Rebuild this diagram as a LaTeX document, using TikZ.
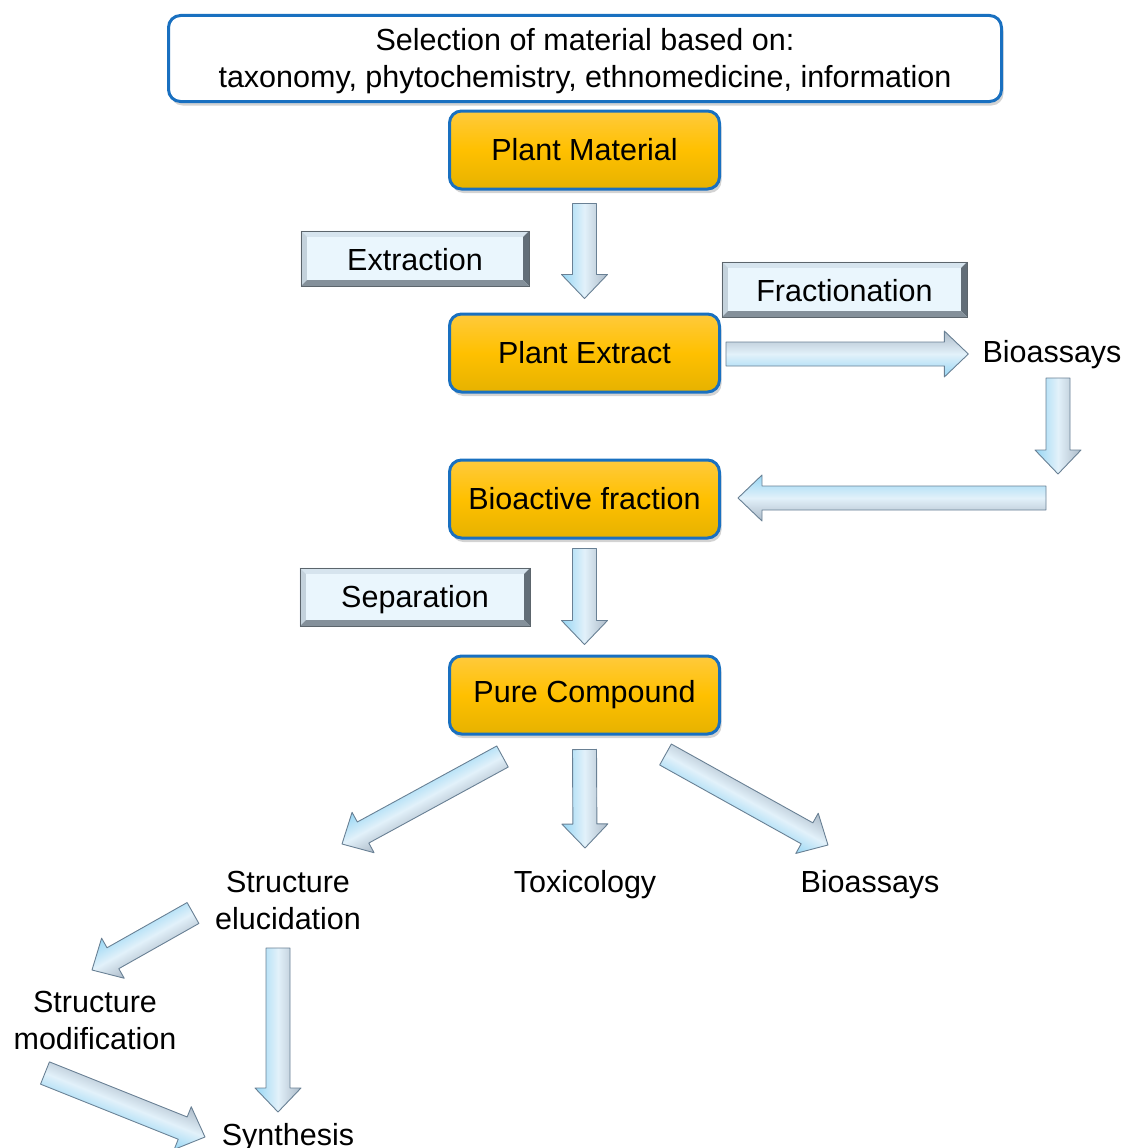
\documentclass[tikz,border=0pt]{standalone}
\usepackage{fontspec}
\setmainfont{Liberation Sans}
\usetikzlibrary{calc,shadows}
\definecolor{bblue}{RGB}{25,112,192}
\definecolor{orA}{RGB}{255,202,60}
\definecolor{orB}{RGB}{255,192,0}
\definecolor{orC}{RGB}{230,178,0}
\definecolor{labfill}{RGB}{234,246,253}
\definecolor{bevT}{RGB}{214,228,238}
\definecolor{bevL}{RGB}{196,210,220}
\definecolor{bevR}{RGB}{98,110,120}
\definecolor{bevB}{RGB}{132,144,154}
\definecolor{arGray}{RGB}{172,186,200}
\definecolor{arCyan}{RGB}{150,214,244}
\definecolor{arMid}{RGB}{226,241,250}
\definecolor{arLine}{RGB}{105,128,148}
\tikzset{
  txt/.style={font=\fontsize{30.5}{37}\selectfont, inner sep=0pt, align=center},
  selbox/.style={draw=bblue, line width=3pt, rounded corners=12pt, fill=white,
    minimum width=833pt, minimum height=86pt,
    drop shadow={opacity=.35, shadow xshift=2pt, shadow yshift=-4pt}},
  orbox/.style={txt, draw=bblue, line width=3pt, rounded corners=12pt,
    top color=orA, bottom color=orC, middle color=orB,
    minimum width=270pt, minimum height=78pt,
    drop shadow={opacity=.35, shadow xshift=2pt, shadow yshift=-4pt}},
  labbox/.style={txt, fill=labfill, minimum height=55pt},
  blockarrow/.style={draw=arLine, line width=0.9pt, line join=round, top color=arGray, bottom color=arCyan, middle color=arMid},
}
\newcommand{\bevelbox}[1]{%
  \fill[bevT] (#1.north west) -- (#1.north east) -- ([shift={(-6pt,-6pt)}]#1.north east) -- ([shift={(6pt,-6pt)}]#1.north west) -- cycle;
  \fill[bevL] (#1.north west) -- ([shift={(6pt,-6pt)}]#1.north west) -- ([shift={(6pt,6pt)}]#1.south west) -- (#1.south west) -- cycle;
  \fill[bevR] (#1.north east) -- ([shift={(-6pt,-6pt)}]#1.north east) -- ([shift={(-6pt,6pt)}]#1.south east) -- (#1.south east) -- cycle;
  \fill[bevB] (#1.south west) -- ([shift={(6pt,6pt)}]#1.south west) -- ([shift={(-6pt,6pt)}]#1.south east) -- (#1.south east) -- cycle;
  \draw[bevB!70!black, line width=0.6pt] (#1.north west) rectangle (#1.south east);}
\newcommand{\blockarr}[2]{%
  \path let \p1=(#1), \p2=(#2) in \pgfextra{%
    \pgfmathsetmacro{\tmplen}{veclen(\x2-\x1,\y2-\y1)}%
    \pgfmathsetmacro{\tmpang}{atan2(\y2-\y1,\x2-\x1)}%
    \xdef\barlen{\tmplen}\xdef\barang{\tmpang}\xdef\barx{\x1}\xdef\bary{\y1}};
  \begin{scope}[transform canvas={shift={(\barx,\bary)}, rotate=\barang}]
    \shade[blockarrow]
      (0pt,-12pt) -- ({\barlen pt-24pt},-12pt) -- ({\barlen pt-24pt},-23pt) -- (\barlen pt,0pt)
      -- ({\barlen pt-24pt},23pt) -- ({\barlen pt-24pt},12pt) -- (0pt,12pt) -- cycle;
  \end{scope}}
\begin{document}
\begin{tikzpicture}[x=1pt,y=-1pt]
\useasboundingbox (0,0) rectangle (1126,1148);
% boxes
\node[selbox] (sel) at (585,58.5) {};
\node[txt] (selt) at ([yshift=-3pt]sel.center) {Selection of material based on:\\taxonomy, phytochemistry, ethnomedicine, information};
\node[orbox] (pm) at (584.5,150) {Plant Material};
\node[orbox] (pe) at (584.5,353) {Plant Extract};
\node[orbox] (bf) at (584.5,499) {Bioactive fraction};
\node[orbox] (pc) at (584.5,695) {Pure Compound};
% label boxes
\node[labbox, minimum width=228pt] (ext) at (415,258.5) {};
\bevelbox{ext}
\node[txt] at ([yshift=-1pt]ext.center) {Extraction};
\node[labbox, minimum width=245pt] (frac) at (844.5,289.5) {};
\bevelbox{frac}
\node[txt] at ([yshift=-1pt]frac.center) {Fractionation};
\node[labbox, minimum width=230pt, minimum height=58pt] (sep) at (415,597) {};
\bevelbox{sep}
\node[txt] at ([yshift=-3pt]sep.center) {Separation};
% plain texts
\node[txt] (bio1) at (1052,355) {Bioassays};
\node[txt] (se) at (288,900) {Structure\\elucidation};
\node[txt] (tox) at (585,885) {Toxicology};
\node[txt] (bio2) at (870,885) {Bioassays};
\node[txt] (sm) at (95,1020) {Structure\\modification};
\node[txt, anchor=base] (syn) at (288,1145) {Synthesis};
% block arrows
\blockarr{$(pm.south)+(0,13)$}{$(pe.north)+(0,-14)$}
\blockarr{$(pe.east)+(5,1)$}{$(bio1.west)+(-14,-1)$}
\blockarr{$(bio1)+(6,23)$}{$(bio1)+(6,119)$}
\blockarr{$(bf.east)+(325,-1)$}{$(bf.east)+(17,-1)$}
\blockarr{$(bf.south)+(0,9)$}{$(pc.north)+(0,-10)$}
\blockarr{$(pc.south)+(-82,21)$}{$(se)+(54,-56)$}
\blockarr{$(pc.south)+(0,14)$}{$(tox)+(0,-37)$}
\blockarr{$(pc.south)+(81,19)$}{$(bio2)+(-42,-40)$}
\blockarr{$(se)+(-95,13)$}{$(sm)+(-3,-50)$}
\blockarr{$(se)+(-10,48)$}{$(syn.base)+(-10,-33)$}
\blockarr{$(sm)+(-50,53)$}{$(syn.base)+(-83,-8)$}
\end{tikzpicture}
\end{document}
